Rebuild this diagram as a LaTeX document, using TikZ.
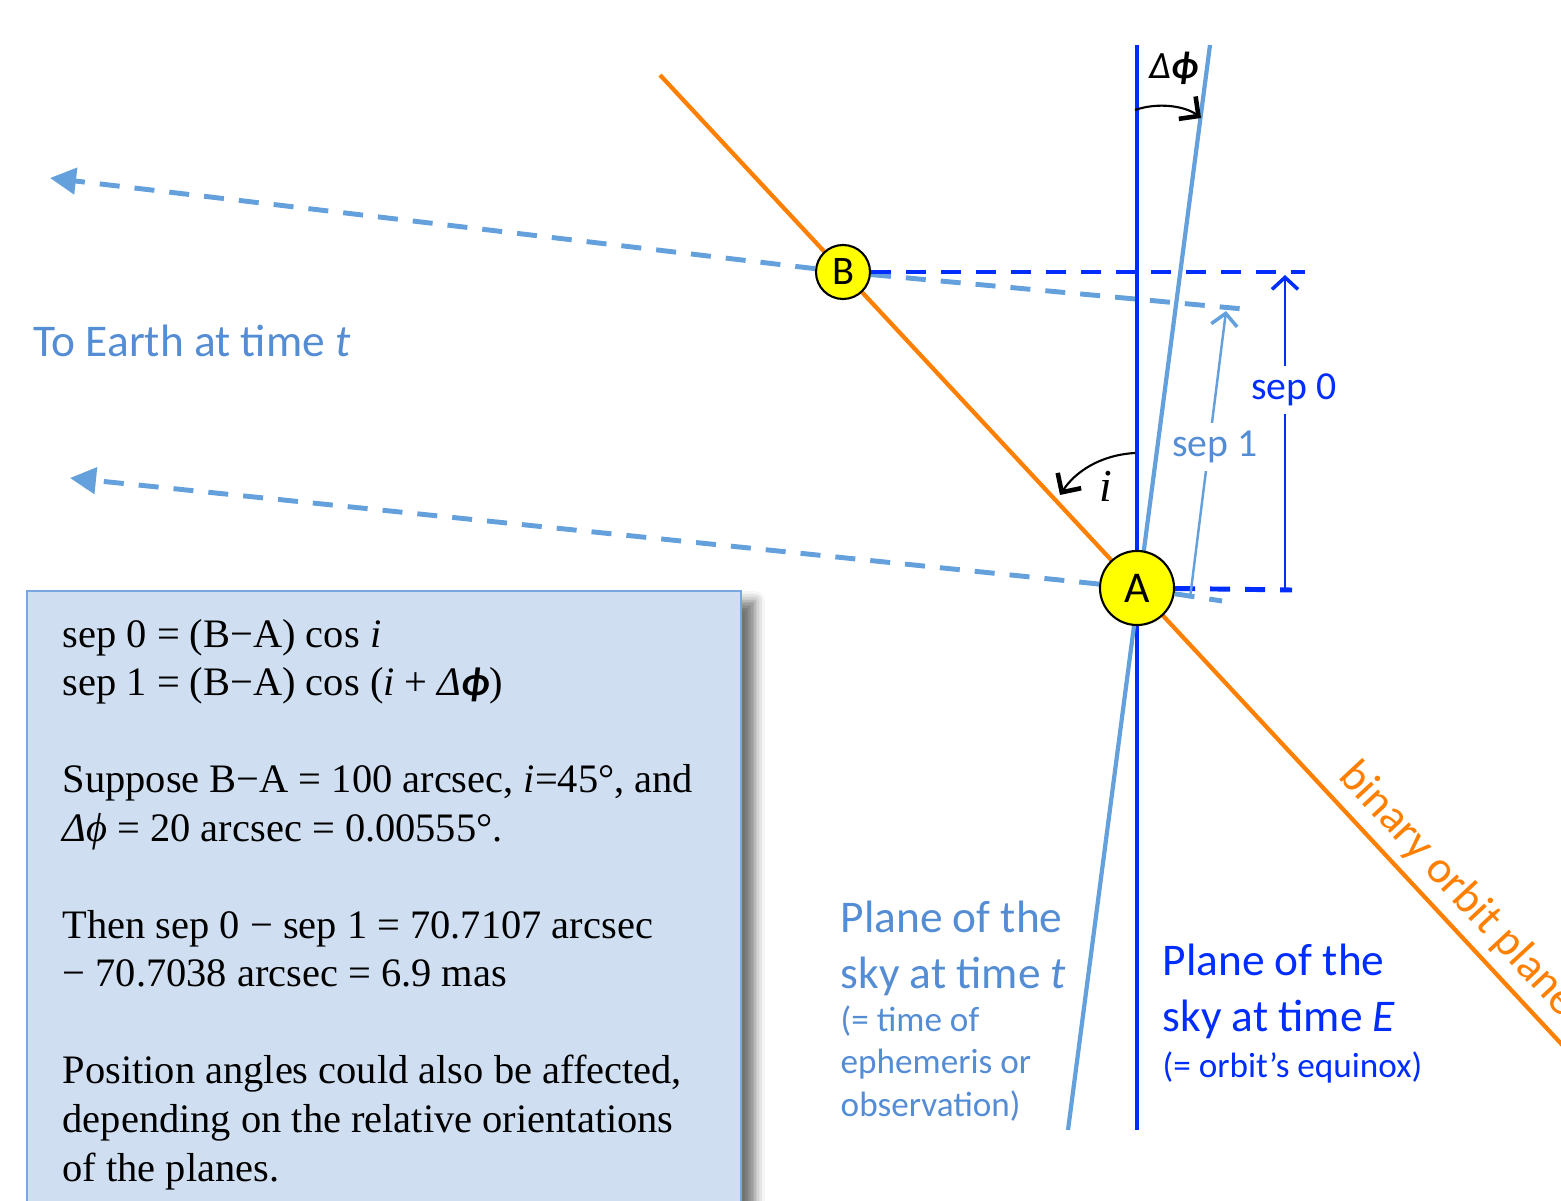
\documentclass[tikz,border=0pt]{standalone}
\usepackage{fontspec}
\setmainfont{Liberation Serif}
\newfontfamily\calibri{Carlito}
\usetikzlibrary{arrows.meta,shadows.blur}
\definecolor{skyE}{RGB}{0,45,255}
\definecolor{skyT}{RGB}{100,160,220}
\definecolor{skyText}{RGB}{84,141,212}
\definecolor{orbit}{RGB}{255,127,0}
\definecolor{bodyYellow}{RGB}{255,255,0}
\definecolor{noteFill}{RGB}{207,223,241}
\definecolor{noteEdge}{RGB}{120,168,224}

\begin{document}
\begin{tikzpicture}[x=0.01cm,y=-0.01cm,
  every node/.style={inner sep=0pt},
  body/.style={circle,draw=black,line width=0.6pt,fill=bodyYellow},
  earth/.style={skyT,line width=1.4pt,dash pattern=on 2mm off 1.5mm},
  level/.style={skyE,line width=1.4pt,dash pattern=on 2mm off 1.5mm},
  sep/.style={-{Straight Barb[length=1.2mm,width=2.6mm,line width=1pt]}},
  turn/.style={black,line width=0.6pt,-{Straight Barb[length=1.4mm,width=2.8mm,line width=1.3pt]}},
  big/.style={font=\calibri\fontsize{12.9}{15.9}\selectfont},
  small/.style={font=\calibri\fontsize{10}{12}\selectfont}]
\useasboundingbox (0,0) rectangle (1561,1201);

% note box
\fill[noteFill,blur shadow={shadow xshift=1.4mm,shadow yshift=-1mm,shadow blur radius=1mm,shadow opacity=55}] (27,591) rectangle (741,1230);
\draw[noteEdge,line width=0.8pt] (27,1230) -- (27,591) -- (741,591) -- (741,1230);
\node[font=\fontsize{11.5}{13.8}\selectfont,align=left,anchor=base west] (note) at (62,1181)
  {sep 0 = (B−A) cos \textit{i}\\
   sep 1 = (B−A) cos (\textit{i} + \textit{Δ}{\calibri\bfseries\itshape ϕ})\\[13.8pt]
   Suppose B−A = 100 arcsec, \textit{i}=45°, and\\
   \textit{Δϕ} = 20 arcsec = 0.00555°.\\[13.8pt]
   Then sep 0 − sep 1 = 70.7107 arcsec\\
   − 70.7038 arcsec = 6.9 mas\\[13.8pt]
   Position angles could also be affected,\\
   depending on the relative orientations\\
   of the planes.};

% planes
\coordinate (Etop) at (1137,45);
\coordinate (Ebot) at (1137,1130);
\coordinate (Ttop) at (1210,45);
\coordinate (Tbot) at (1068,1130);
\coordinate (Otop) at (660,75);
\coordinate (Obot) at (1580,1064);
\draw[skyE,line width=1.4pt] (Etop) -- (Ebot);
\draw[skyT,line width=1.2pt] (Ttop) -- (Tbot);
\draw[orbit,line width=1.2pt] (Otop) -- (Obot);

% the two stars
\node[body,minimum size=5.4mm,font=\calibri\fontsize{11.5}{11.5}\selectfont] (B) at (843,272) {B};
\node[body,minimum size=7.4mm,font=\calibri\fontsize{12.5}{12.5}\selectfont] (A) at (1137,588) {A};

% lines of sight and levels
\coordinate (earthB) at (50,178);
\coordinate (earthA) at (70,478);
\coordinate (endB0) at (1305,272);
\coordinate (endA0) at (1292,590);
\coordinate (endB1) at (1243,309);
\coordinate (endA1) at (1222,601);
\draw[earth,-{Triangle[length=2.6mm,width=2.6mm]}] (B) -- (earthB);
\draw[earth,-{Triangle[length=2.6mm,width=2.6mm]}] (A) -- (earthA);
\draw[earth] (B) -- (endB1);
\draw[earth] (A) -- (endA1);
\draw[level] (B) -- (endB0);
\draw[level] (A) -- (endA0);

% separations
\coordinate (low0) at (1285,590);
\coordinate (up0) at (1285,275);
\coordinate (low1) at (1190,598);
\coordinate (up1) at (1226,311);
\draw[sep,skyE,line width=0.7pt] (low0) -- node[pos=0.635,xshift=0.9mm,fill=white,inner ysep=0.8mm,font=\calibri\fontsize{11.3}{11.3}\selectfont,text=skyE] (sep0) {sep 0} (up0);
\draw[sep,skyT,line width=0.7pt] (low1) -- node[pos=0.526,xshift=0.6mm,fill=white,inner ysep=0.8mm,font=\calibri\fontsize{11.3}{11.3}\selectfont,text=skyText] (sep1) {sep 1} (up1);

% angles
\coordinate (phiStart) at (1135,110);
\coordinate (phiEnd) at (1201,118);
\coordinate (iStart) at (1135,453);
\coordinate (iEnd) at (1060,495);
\draw[turn] (phiStart) .. controls (1158,102) and (1185,106) .. (phiEnd);
\draw[turn] (iStart) .. controls (1100,455) and (1075,472) .. (iEnd);
\node[font=\calibri\fontsize{11}{11}\selectfont,anchor=base] (dphi) at (1174,79) {\itshape Δ\textbf{ϕ}};
\node[font=\fontsize{13}{13}\selectfont\itshape,anchor=base] (incl) at (1106,502) {i};

% labels
\node[big,text=skyText,anchor=base west] (earth) at (33,357) {To Earth at time \textit{t}};
\node[big,text=skyText,align=left,anchor=base west] (skyt) at (840,988) {Plane of the\\sky at time \textit{t}};
\node[small,text=skyText,align=left,anchor=base west] (skytnote) at (840,1116) {(= time of\\ephemeris or\\observation)};
\node[big,text=skyE,align=left,anchor=base west] (skye) at (1162,1031) {Plane of the\\sky at time \textit{E}};
\node[small,text=skyE,anchor=base west] (skyenote) at (1162,1077) {(= orbit’s equinox)};
\node[big,text=orbit,rotate=-47.07,anchor=base west] (orbitlabel) at (1337,777) {binary orbit plane};
\end{tikzpicture}
\end{document}
